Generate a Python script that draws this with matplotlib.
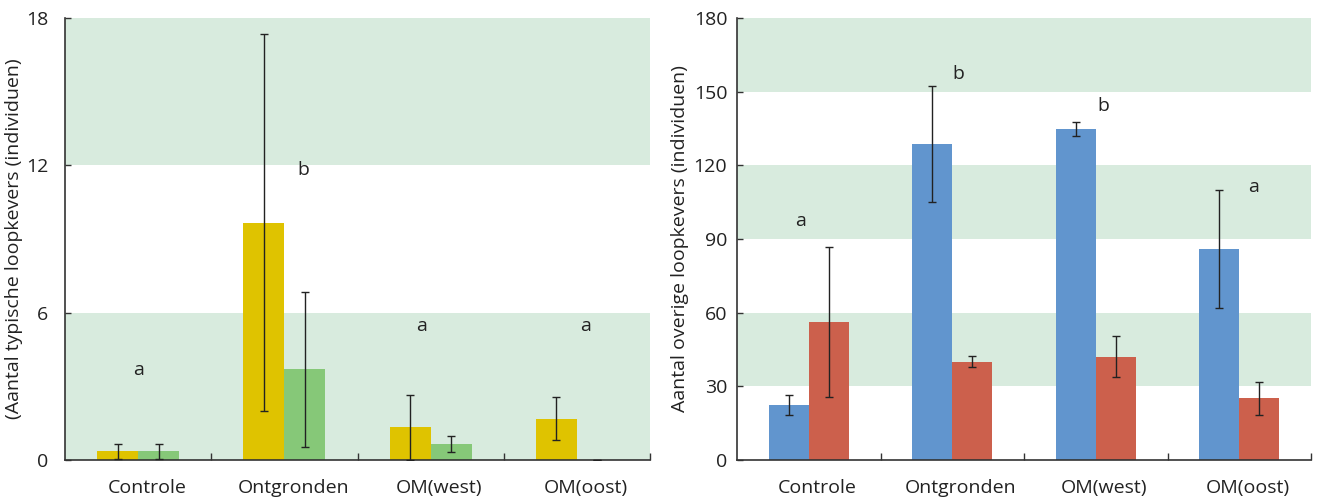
import matplotlib
matplotlib.use("Agg")
import matplotlib.pyplot as plt
import numpy as np

plt.rcParams['font.family'] = ['Open Sans', 'DejaVu Sans']

categories = ["Controle", "Ontgronden", "OM(west)", "OM(oost)"]

# Left panel: typical ground beetles
typ_a = [0.35, 9.66, 1.33, 1.69]
typ_a_err = [0.32, 7.68, 1.33, 0.89]
typ_b = [0.35, 3.69, 0.65, 0.0]
typ_b_err = [0.32, 3.17, 0.34, 0.0]
typ_letters = ["a", "b", "a", "a"]
typ_letter_y = [3.66, 11.8, 5.45, 5.47]
typ_letter_x = [0.0, 0.13, -0.06, 0.06]

# Right panel: other ground beetles
ovr_a = [22.3, 128.7, 134.9, 85.9]
ovr_a_err = [4.0, 23.6, 2.8, 24.2]
ovr_b = [56.1, 40.0, 42.1, 25.1]
ovr_b_err = [30.6, 2.2, 8.2, 6.7]
ovr_letters = ["a", "b", "b", "a"]
ovr_letter_y = [97.5, 157.0, 144.0, 111.0]
ovr_letter_x = [-0.06, 0.04, 0.05, 0.1]

YELLOW = "#dfc300"
GREEN = "#86c878"
BLUE = "#6195ce"
RED = "#cc604c"
BAND = "#d8ebde"
TXT = "#222222"
FS = 14
W, H = 1319, 498

fig = plt.figure(figsize=(W / 100, H / 100), dpi=100)
axL = fig.add_axes([65 / W, 38 / H, 585 / W, 442 / H])
axR = fig.add_axes([737 / W, 38 / H, 574 / W, 442 / H])

def panel(ax, a, aerr, b, berr, ca, cb, ymax, step, bands, letters, ly, lx, ylabel, lpad, ypad):
    x = np.arange(len(categories))
    bw = 0.28
    for lo, hi in bands:
        ax.axhspan(lo, hi, color=BAND, lw=0, zorder=0)
    ax.bar(x - bw / 2, a, bw, color=ca, zorder=2)
    ax.bar(x + bw / 2, b, bw, color=cb, zorder=2)
    ax.errorbar(x - bw / 2, a, yerr=aerr, fmt='none', ecolor=TXT, elinewidth=1,
                capsize=3, capthick=1, zorder=3)
    ax.errorbar(x + bw / 2, b, yerr=berr, fmt='none', ecolor=TXT, elinewidth=1,
                capsize=3, capthick=1, zorder=3)
    for i, t in enumerate(letters):
        ax.text(i + lx[i], ly[i], t, ha='center', va='center', fontsize=FS, color=TXT)
    ax.set_xlim(-0.5, len(categories) - 0.5)
    ax.set_ylim(0, ymax)
    ticks = np.arange(0, ymax + 0.1, step)
    ax.set_yticks(ticks)
    ax.set_yticklabels([f"{int(v)}" for v in ticks])
    ax.set_xticks(np.arange(0.5, len(categories) - 0.4, 1.0))
    ax.set_xticklabels([])
    ax.set_xticks(x + 0.06, minor=True)
    ax.set_xticklabels(categories, minor=True)
    ax.tick_params(axis='x', which='major', direction='in', length=5, width=1, color='#333333')
    ax.tick_params(axis='x', which='minor', length=0, pad=14, labelsize=FS, labelcolor=TXT)
    ax.tick_params(axis='y', direction='in', length=4, width=1, color='#333333',
                   pad=ypad, labelsize=FS, labelcolor=TXT)
    for s in ['top', 'right']:
        ax.spines[s].set_visible(False)
    for s in ['left', 'bottom']:
        ax.spines[s].set_color('#333333')
        ax.spines[s].set_linewidth(1.2)
    ax.set_ylabel(ylabel, fontsize=FS, color=TXT, labelpad=lpad)

panel(axL, typ_a, typ_a_err, typ_b, typ_b_err, YELLOW, GREEN, 18, 6,
      [(0, 6), (12, 18)], typ_letters, typ_letter_y, typ_letter_x,
      "(Aantal typische loopkevers (individuen)", 2, 12)
panel(axR, ovr_a, ovr_a_err, ovr_b, ovr_b_err, BLUE, RED, 180, 30,
      [(30, 60), (90, 120), (150, 180)], ovr_letters, ovr_letter_y, ovr_letter_x,
      "Aantal overige loopkevers (individuen)", 3, 7)

fig.savefig("out.png", dpi=100)
